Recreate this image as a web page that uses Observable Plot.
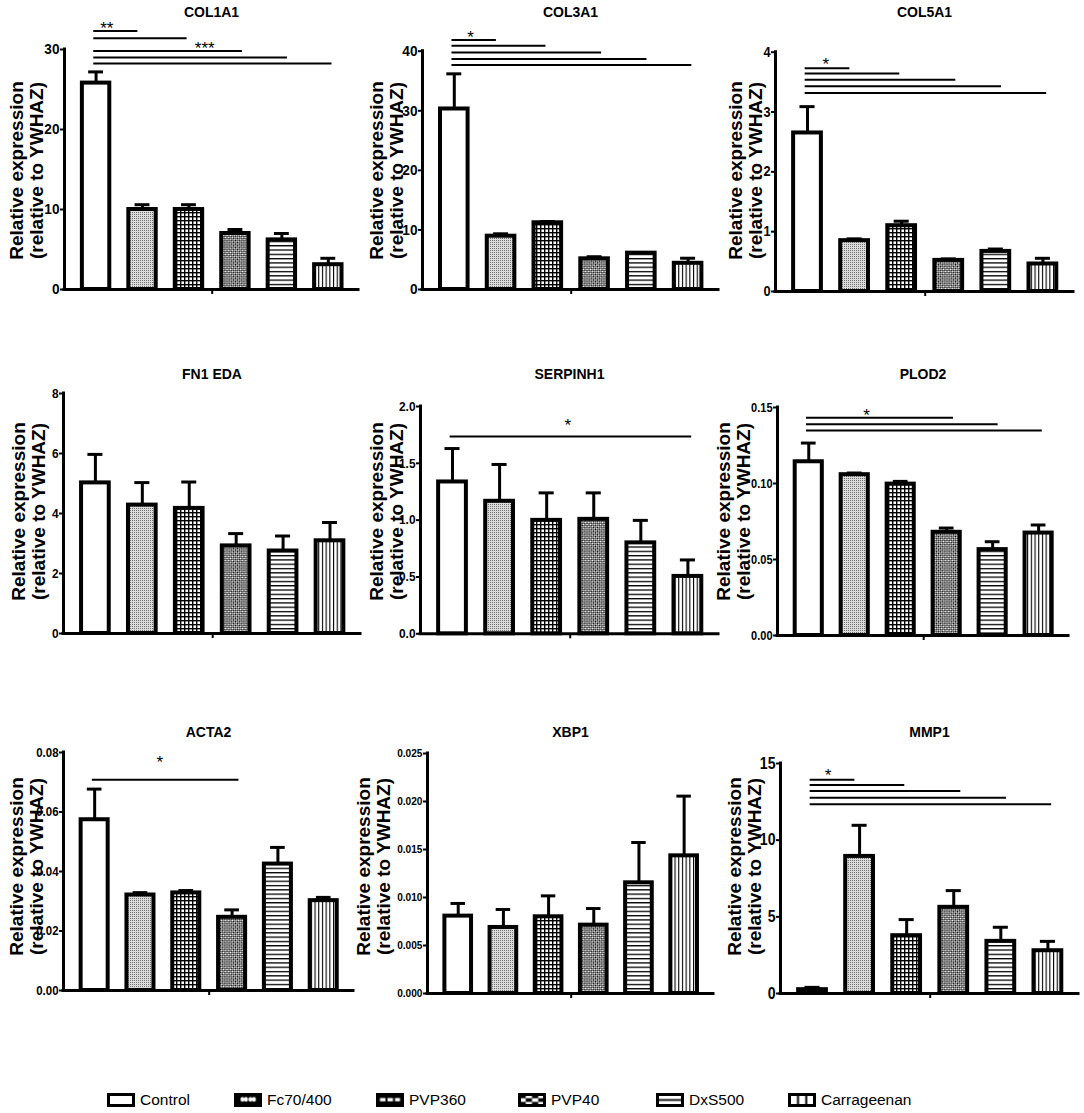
<!DOCTYPE html>
<html><head><meta charset="utf-8">
<script src="https://cdn.jsdelivr.net/npm/d3@7"></script>
<script src="https://cdn.jsdelivr.net/npm/@observablehq/plot@0.6"></script>
<style>
html,body{margin:0;padding:0;background:#fff;}
#root{position:relative;width:1084px;height:1113px;overflow:hidden;background:#fff;}
</style></head><body>
<svg width="0" height="0" style="position:absolute">
<defs>
 <pattern id="pFc" patternUnits="userSpaceOnUse" width="2" height="2">
  <rect width="2" height="2" fill="#dcdcdc"/><rect width="1" height="1" fill="#707070"/>
 </pattern>
 <pattern id="pGrid" patternUnits="userSpaceOnUse" width="4" height="4">
  <rect width="4" height="4" fill="#fff"/><rect width="4" height="1.4" fill="#000"/><rect width="1.4" height="4" fill="#000"/>
 </pattern>
 <pattern id="pCheck" patternUnits="userSpaceOnUse" width="3" height="3" patternTransform="rotate(45)">
  <rect width="3" height="3" fill="#fff"/><rect width="1.5" height="1.5" fill="#000"/><rect x="1.5" y="1.5" width="1.5" height="1.5" fill="#000"/>
 </pattern>
 <pattern id="pHoriz" patternUnits="userSpaceOnUse" width="4" height="4.3">
  <rect width="4" height="4.3" fill="#fff"/><rect width="4" height="1.3" fill="#000"/>
 </pattern>
 <pattern id="pVert" patternUnits="userSpaceOnUse" width="3.7" height="4">
  <rect width="3.7" height="4" fill="#fff"/><rect width="1.1" height="4" fill="#000"/>
 </pattern>
 <pattern id="lFc" patternContentUnits="objectBoundingBox" width="1" height="1">
  <rect width="1" height="1" fill="#000"/>
  <ellipse cx="0.28" cy="0.45" rx="0.08" ry="0.22" fill="#fff"/><ellipse cx="0.42" cy="0.45" rx="0.08" ry="0.22" fill="#fff"/>
  <ellipse cx="0.6" cy="0.45" rx="0.08" ry="0.22" fill="#fff"/><ellipse cx="0.74" cy="0.45" rx="0.08" ry="0.22" fill="#fff"/>
 </pattern>
 <pattern id="lGrid" patternContentUnits="objectBoundingBox" width="1" height="1">
  <rect width="1" height="1" fill="#000"/>
  <rect x="0.1" y="0.32" width="0.22" height="0.3" fill="#fff"/><rect x="0.4" y="0.32" width="0.22" height="0.3" fill="#fff"/><rect x="0.7" y="0.32" width="0.2" height="0.3" fill="#fff"/>
 </pattern>
 <pattern id="lCheck" patternContentUnits="objectBoundingBox" width="1" height="1">
  <rect width="1" height="1" fill="#fff"/>
  <rect x="0" y="0" width="0.25" height="0.34" fill="#000"/><rect x="0.5" y="0" width="0.25" height="0.34" fill="#000"/>
  <rect x="0.25" y="0.34" width="0.25" height="0.33" fill="#000"/><rect x="0.75" y="0.34" width="0.25" height="0.33" fill="#000"/>
  <rect x="0" y="0.67" width="0.25" height="0.33" fill="#000"/><rect x="0.5" y="0.67" width="0.25" height="0.33" fill="#000"/>
 </pattern>
 <pattern id="lHoriz" patternContentUnits="objectBoundingBox" width="1" height="1">
  <rect width="1" height="1" fill="#fff"/><rect y="0.42" width="1" height="0.16" fill="#000"/>
 </pattern>
 <pattern id="lVert" patternContentUnits="objectBoundingBox" width="1" height="1">
  <rect width="1" height="1" fill="#fff"/><rect x="0.3" width="0.08" height="1" fill="#000"/><rect x="0.63" width="0.08" height="1" fill="#000"/>
 </pattern>
</defs></svg>
<div id="root"></div>
<script>
// ---------------- data ----------------
const groups = ["Control", "Fc70/400", "PVP360", "PVP40", "DxS500", "Carrageenan"];
const genes = ["COL1A1", "COL3A1", "COL5A1", "FN1 EDA", "SERPINH1", "PLOD2", "ACTA2", "XBP1", "MMP1"];

const meanCOL1A1 = [25.8, 10.0, 10.0, 7.0, 6.2, 3.1];
const errCOL1A1  = [1.4, 0.6, 0.6, 0.5, 0.8, 0.8];
const meanCOL3A1 = [30.3, 8.95, 11.2, 5.15, 6.1, 4.4];
const errCOL3A1  = [5.9, 0.4, 0.2, 0.35, 0.1, 0.85];
const meanCOL5A1 = [2.65, 0.85, 1.10, 0.52, 0.67, 0.46];
const errCOL5A1  = [0.44, 0.03, 0.075, 0.025, 0.04, 0.095];
const meanFN1EDA = [5.02, 4.28, 4.17, 2.92, 2.75, 3.09];
const errFN1EDA  = [0.95, 0.75, 0.88, 0.41, 0.5, 0.61];
const meanSERPINH1 = [1.336, 1.166, 0.998, 1.007, 0.80, 0.505];
const errSERPINH1  = [0.294, 0.324, 0.242, 0.233, 0.198, 0.145];
const meanPLOD2 = [0.1143, 0.1058, 0.0996, 0.0679, 0.0565, 0.0674];
const errPLOD2  = [0.0123, 0.0011, 0.0018, 0.0028, 0.0052, 0.0053];
const meanACTA2 = [0.0574, 0.0321, 0.0328, 0.0246, 0.0425, 0.0302];
const errACTA2  = [0.0103, 0.0008, 0.0008, 0.0025, 0.0056, 0.0011];
const meanXBP1 = [0.00806, 0.00688, 0.00799, 0.00712, 0.01153, 0.01434];
const errXBP1  = [0.00132, 0.00187, 0.00218, 0.00173, 0.0042, 0.00622];
const meanMMP1 = [0.25, 8.94, 3.77, 5.62, 3.40, 2.79];
const errMMP1  = [0.15, 2.03, 1.05, 1.09, 0.92, 0.61];

const ticksCOL1A1 = ["0", "10", "20", "30"];
const ticksCOL3A1 = ["0", "10", "20", "30", "40"];
const ticksCOL5A1 = ["0", "1", "2", "3", "4"];
const ticksFN1EDA = ["0", "2", "4", "6", "8"];
const ticksSERPINH1 = ["0.0", "0.5", "1.0", "1.5", "2.0"];
const ticksPLOD2 = ["0.00", "0.05", "0.10", "0.15"];
const ticksACTA2 = ["0.00", "0.02", "0.04", "0.06", "0.08"];
const ticksXBP1 = ["0.000", "0.005", "0.010", "0.015", "0.020", "0.025"];
const ticksMMP1 = ["0", "5", "10", "15"];

// significance comparisons: Control vs group index, bracket height (data units)
const sigToCOL1A1 = [1, 2, 3, 4, 5];
const sigAtCOL1A1 = [32.3, 31.4, 29.8, 29.0, 28.25];
const starsCOL1A1 = [{text: "**", at: 0.23, level: 33.25}, {text: "***", at: 2.34, level: 30.75}];
const sigToCOL3A1 = [1, 2, 3, 4, 5];
const sigAtCOL3A1 = [41.9, 40.9, 39.8, 38.7, 37.7];
const starsCOL3A1 = [{text: "*", at: 0.35, level: 43.2}];
const sigToCOL5A1 = [1, 2, 3, 4, 5];
const sigAtCOL5A1 = [3.73, 3.645, 3.54, 3.43, 3.32];
const starsCOL5A1 = [{text: "*", at: 0.39, level: 3.88}];
const sigToSERPINH1 = [5];
const sigAtSERPINH1 = [1.735];
const starsSERPINH1 = [{text: "*", at: 2.45, level: 1.88}];
const sigToPLOD2 = [3, 4, 5];
const sigAtPLOD2 = [0.1432, 0.1390, 0.1349];
const starsPLOD2 = [{text: "*", at: 1.26, level: 0.1478}];
const sigToACTA2 = [3];
const sigAtACTA2 = [0.0708];
const starsACTA2 = [{text: "*", at: 1.42, level: 0.0783}];
const sigToMMP1 = [1, 2, 3, 4, 5];
const sigAtMMP1 = [13.94, 13.59, 13.2, 12.77, 12.35];
const starsMMP1 = [{text: "*", at: 0.33, level: 14.55}];

const panels = [
  {gene: genes[0], mean: meanCOL1A1, err: errCOL1A1, ticks: ticksCOL1A1, sigTo: sigToCOL1A1, sigAt: sigAtCOL1A1, stars: starsCOL1A1},
  {gene: genes[1], mean: meanCOL3A1, err: errCOL3A1, ticks: ticksCOL3A1, sigTo: sigToCOL3A1, sigAt: sigAtCOL3A1, stars: starsCOL3A1},
  {gene: genes[2], mean: meanCOL5A1, err: errCOL5A1, ticks: ticksCOL5A1, sigTo: sigToCOL5A1, sigAt: sigAtCOL5A1, stars: starsCOL5A1},
  {gene: genes[3], mean: meanFN1EDA, err: errFN1EDA, ticks: ticksFN1EDA, sigTo: [], sigAt: [], stars: []},
  {gene: genes[4], mean: meanSERPINH1, err: errSERPINH1, ticks: ticksSERPINH1, sigTo: sigToSERPINH1, sigAt: sigAtSERPINH1, stars: starsSERPINH1},
  {gene: genes[5], mean: meanPLOD2, err: errPLOD2, ticks: ticksPLOD2, sigTo: sigToPLOD2, sigAt: sigAtPLOD2, stars: starsPLOD2},
  {gene: genes[6], mean: meanACTA2, err: errACTA2, ticks: ticksACTA2, sigTo: sigToACTA2, sigAt: sigAtACTA2, stars: starsACTA2},
  {gene: genes[7], mean: meanXBP1, err: errXBP1, ticks: ticksXBP1, sigTo: [], sigAt: [], stars: []},
  {gene: genes[8], mean: meanMMP1, err: errMMP1, ticks: ticksMMP1, sigTo: sigToMMP1, sigAt: sigAtMMP1, stars: starsMMP1}
];

// ---------------- layout / style ----------------
const sans = "'Liberation Sans',Arial,Helvetica,sans-serif";
const fills = ["#ffffff", "url(#pFc)", "url(#pGrid)", "url(#pCheck)", "url(#pHoriz)", "url(#pVert)"];
const legendFills = ["#ffffff", "url(#lFc)", "url(#lGrid)", "url(#lCheck)", "url(#lHoriz)", "url(#lVert)"];
const legendX = [107, 234, 376, 518, 656, 788];
const xDomain = [-0.68, 5.65];
const rows = [
  {top: 0, h: 340, titleY: 12, labelY: 170},
  {top: 340, h: 360, titleY: 374, labelY: 511},
  {top: 700, h: 360, titleY: 732, labelY: 866}
];
const frames = [
  {L: 64, T: 49, R: 358, B: 289, fs: 15.5, lx: 26},
  {L: 422, T: 50.7, R: 718, B: 289, fs: 15.5, lx: 386},
  {L: 775, T: 51.7, R: 1073, B: 291, fs: 14.5, lx: 745.5},
  {L: 63, T: 393, R: 360, B: 633, fs: 13.5, lx: 28.5},
  {L: 420, T: 406, R: 718, B: 633.3, fs: 13.5, lx: 386},
  {L: 777, T: 407, R: 1068, B: 635, fs: 12.5, lx: 733},
  {L: 63, T: 752, R: 353, B: 990, fs: 13, lx: 26},
  {L: 427, T: 753, R: 713, B: 993, fs: 11.5, lx: 373},
  {L: 780, T: 763, R: 1078, B: 993, fs: 16, lx: 744.5}
];
const endAdj = {1: -0.1, 2: -0.04, 3: 0.15, 4: 0.12, 5: 0.08};

function squeeze(svg, label, factor) {
  svg.querySelectorAll(`g[aria-label="${label}"] text`).forEach(t => {
    const L = t.getComputedTextLength();
    if (L > 0) {
      t.setAttribute("textLength", (L * factor).toFixed(2));
      t.setAttribute("lengthAdjust", "spacingAndGlyphs");
    }
  });
}

const root = document.getElementById("root");

panels.forEach((p, idx) => {
  const row = rows[Math.floor(idx / 3)];
  const col = idx % 3;
  const f = frames[idx];
  const left = col * 360, top = row.top;
  const w = col === 2 ? 364 : 360, h = row.h;
  const tickVals = p.ticks.map(Number);
  const tickMap = new Map(tickVals.map((v, i) => [v, p.ticks[i]]));
  const ymax = tickVals[tickVals.length - 1];
  const data = groups.map((g, i) => ({g, i, mean: p.mean[i], err: p.err[i]}));
  const sig = p.sigTo.map((k, j) => ({k, level: p.sigAt[j]}));

  const svg = Plot.plot({
    width: w, height: h,
    marginLeft: f.L - left, marginRight: left + w - f.R,
    marginTop: f.T - top, marginBottom: top + h - f.B,
    x: {domain: xDomain},
    y: {domain: [0, ymax]},
    color: {type: "identity"},
    style: {overflow: "visible", background: "transparent"},
    marks: [
      Plot.rectY(data, {x1: d => d.i - 0.295, x2: d => d.i + 0.295, y1: 0, y2: "mean",
        fill: d => fills[d.i], stroke: "#000", strokeWidth: 4}),
      Plot.ruleX(data, {x: "i", y1: "mean", y2: d => d.mean + d.err, stroke: "#000", strokeWidth: 3}),
      Plot.ruleY(data, {y: d => d.mean + d.err, x1: d => d.i - 0.16, x2: d => d.i + 0.16, stroke: "#000", strokeWidth: 3}),
      Plot.ruleX([xDomain[0]], {y1: 0, y2: ymax, stroke: "#000", strokeWidth: 3, strokeLinecap: "square"}),
      Plot.ruleY([0], {x1: xDomain[0], x2: xDomain[1], stroke: "#000", strokeWidth: 3, strokeLinecap: "square"}),
      Plot.axisY({ticks: tickVals, tickFormat: d => tickMap.get(d), tickSize: 4, tickPadding: 1,
        fontSize: f.fs, fontWeight: "bold", fontFamily: sans, strokeWidth: 2, label: null}),
      Plot.axisX({ticks: [2.5], tickFormat: () => "", tickSize: 5, strokeWidth: 2, label: null}),
      Plot.ruleY(sig, {y: "level", x1: -0.05, x2: d => d.k + endAdj[d.k], stroke: "#000", strokeWidth: 2}),
      Plot.text(p.stars, {x: "at", y: "level", text: "text", fontSize: 17, dy: 5, fontFamily: sans, fill: "#000"}),
      Plot.text([p.gene], {text: d => d, frameAnchor: "top", dy: row.titleY - f.T, lineAnchor: "middle",
        fontSize: 14, fontWeight: "bold", fontFamily: sans, fill: "#000", ariaLabel: "panel-title"}),
      Plot.text(["Relative expression\n(relative to YWHAZ)"], {text: d => d, frameAnchor: "top-left",
        dx: f.lx - f.L, dy: row.labelY - f.T, rotate: -90, textAnchor: "middle", lineAnchor: "middle",
        lineHeight: 1.05, fontSize: 19, fontWeight: "bold", fontFamily: sans, fill: "#000"})
    ]
  });
  svg.style.position = "absolute";
  svg.style.left = left + "px";
  svg.style.top = top + "px";
  svg.style.overflow = "visible";
  root.appendChild(svg);
  squeeze(svg, "y-axis tick label", 0.88);
  squeeze(svg, "panel-title", 0.9);
});

// legend
const leg = d3.create("svg").attr("width", 1084).attr("height", 33)
  .style("position", "absolute").style("left", "0px").style("top", "1080px").style("overflow", "visible");
groups.forEach((g, i) => {
  const x = legendX[i];
  leg.append("rect").attr("x", x + 1.5).attr("y", 14.5).attr("width", 25).attr("height", 11)
    .attr("fill", legendFills[i]).attr("stroke", "#000").attr("stroke-width", 3);
  leg.append("text").attr("x", x + 33).attr("y", 19.5).attr("dy", "0.35em")
    .attr("font-family", sans).attr("font-size", 15.5).attr("fill", "#000").text(g);
});
root.appendChild(leg.node());
</script>
</body></html>
